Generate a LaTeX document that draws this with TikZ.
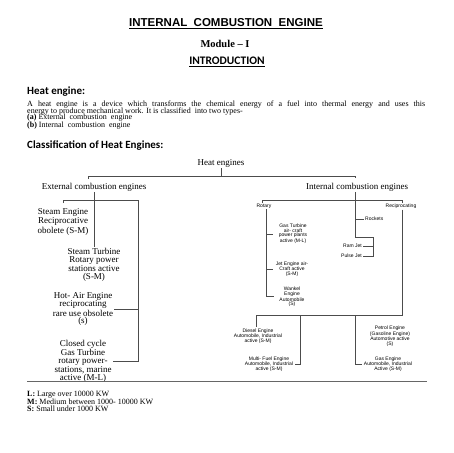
\documentclass[tikz,border=0pt]{standalone}
\usepackage{fontspec}
\setmainfont{Liberation Serif}
\newfontfamily\arialfont{Liberation Sans}
\newfontfamily\calfont{Carlito}
\usetikzlibrary{positioning}

\begin{document}
\begin{tikzpicture}[x=1pt,y=-1pt,
  txt/.style={inner sep=0pt},
  big/.style={align=center,inner sep=1pt,font=\fontsize{9}{7.8}\selectfont},
  tiny/.style={align=center,inner sep=1pt,font=\arialfont\fontsize{5}{4.5}\selectfont},
  ln/.style={black!70,line width=0.6pt}]

\useasboundingbox (0,0) rectangle (453,453);

% page head
\node[txt,font=\arialfont\bfseries\fontsize{11.5}{13}\selectfont] (title) at (226,24)
  {\underline{INTERNAL\ \ COMBUSTION\ \ ENGINE}};
\node[txt,font=\bfseries\fontsize{10.5}{12}\selectfont] (module) at (225,44) {Module -- I};
\node[txt,font=\calfont\bfseries\fontsize{11.5}{13}\selectfont] (intro) at (227,62) {\underline{INTRODUCTION}};

\node[txt,anchor=base west,font=\calfont\bfseries\fontsize{11}{12}\selectfont] (heat) at (27,94) {Heat engine:};
\node[txt,anchor=base west,font=\fontsize{8}{9}\selectfont] (par1) at (27,106)
  {\makebox[398pt][s]{A heat engine is a device which transforms the chemical energy of a fuel into thermal energy and uses this}};
\node[txt,anchor=base west,font=\fontsize{8}{9}\selectfont] (par2) at (27,113)
  {energy to produce mechanical work. It is classified \ into two types-};
\node[txt,anchor=base west,font=\fontsize{8}{9}\selectfont] (typa) at (27,119.5)
  {\textbf{(a)} External \ combustion \ engine};
\node[txt,anchor=base west,font=\fontsize{8}{9}\selectfont] (typb) at (27,127.5)
  {\textbf{(b)} Internal \ combustion \ engine};
\node[txt,anchor=base west,font=\calfont\bfseries\fontsize{11}{12}\selectfont] (clas) at (27,148) {Classification of Heat Engines:};

% tree top
\node[big] (HE) at (221,163) {Heat engines};
\coordinate (hb) at (221,176);
\coordinate (busL) at (88,176);
\coordinate (busR) at (355,176);
\coordinate (tkL) at (88,179);
\coordinate (tkR) at (355,178);
\draw[ln] (HE.south) -- (hb);
\draw[ln] (tkL) -- (busL) -- (busR) -- (tkR);

\node[big] (ECE) at (94,187) {External combustion engines};
\node[big] (ICE) at (357,187) {Internal combustion engines};

% external side
\node[big] (SE) at (63,222) {Steam Engine\\Reciprocative\\obolete (S-M)};
\node[big] (ST) at (94,265) {Steam Turbine\\Rotary power\\stations active\\(S-M)};
\node[big] (HA) at (83,309) {Hot- Air Engine\\reciprocating\\rare use obsolete\\(s)};
\node[big] (CC) at (83,361) {Closed cycle\\Gas Turbine\\rotary power-\\stations, marine\\active (M-L)};

\coordinate (lb1) at (63,203);
\coordinate (lb2) at (63,200);
\coordinate (lb3) at (138,200);
\draw[ln] (ECE.south) -- (ECE.south |- ST.north);
\draw[ln] (lb1) -- (lb2) -- (lb3) -- (lb3 |- CC.east) -- (CC.east);
\draw[ln] (HA.east) -- (HA.east -| lb3);

% internal side
\node[tiny] (ROT) at (264,206) {Rotary};
\node[tiny] (REC) at (401,206) {Reciprocating};
\coordinate (rb1) at (262,203);
\coordinate (rb2) at (262,200);
\coordinate (rb3) at (402,200);
\coordinate (rb4) at (402,203);
\draw[ln] (rb1) -- (rb2) -- (rb3) -- (rb4);

\node[tiny,anchor=west] (RK) at (364,219) {Rockets};
\node[tiny,anchor=east] (RJ) at (363,246) {Ram Jet};
\node[tiny,anchor=east] (PJ) at (363,256) {Pulse Jet};
\coordinate (ij) at (355,237);
\coordinate (jb) at (373,237);
\draw[ln] (ICE.south -| ij) -- (ij) -- (jb) -- (jb |- PJ.east) -- (PJ.east);
\draw[ln] (RJ.east) -- (RJ.east -| jb);
\draw[ln] (RK.west -| ij) -- (RK.west);

\node[tiny] (GT) at (293,234) {Gas Turbine\\air- craft\\power plants\\active (M-L)};
\node[tiny] (JE) at (292,269) {Jet Engine air-\\Craft active\\(S-M)};
\node[tiny] (WK) at (292,297) {Wankel\\Engine\\Automobile\\(S)};
\coordinate (wk) at (266,296);
\draw[ln] (ROT.south -| wk) -- (wk) -- ++(8,0);
\draw[ln] (GT.west -| wk) -- ++(7,0);
\draw[ln] (JE.west -| wk) -- ++(7,0);

\node[tiny] (DE) at (258,336) {Diesel Engine\\Automobile, Industrial\\active (S-M)};
\node[tiny] (MF) at (269,364) {Multi- Fuel Engine\\Automobile, Industrial\\active (S-M)};
\node[tiny] (PE) at (390,336) {Petrol Engine\\(Gasoline Engine)\\Automotive active\\(S)};
\node[tiny] (GE) at (388,364) {Gas Engine\\Automobile, Industrial\\Active (S-M)};
\coordinate (bb1) at (256,315);
\coordinate (bb2) at (402,315);
\coordinate (mf) at (300,364);
\coordinate (ge) at (355,364);
\draw[ln] (REC.south -| bb2) -- (bb2) -- (bb1) -- (bb1 |- DE.north);
\draw[ln] (mf |- bb1) -- (mf) -- ++(-5,0);
\draw[ln] (ge |- bb1) -- (ge) -- ++(7,0);

% foot
\draw[black!60,line width=1pt] (27,381) -- (427,381);
\node[txt,anchor=base west,font=\fontsize{8}{7}\selectfont] (fL) at (27,396.5) {\textbf{L:} Large over 10000 KW};
\node[txt,anchor=base west,font=\fontsize{8}{7}\selectfont] (fM) at (27,404) {\textbf{M:} Medium between 1000- 10000 KW};
\node[txt,anchor=base west,font=\fontsize{8}{7}\selectfont] (fS) at (27,411.5) {\textbf{S:} Small under 1000 KW};

\end{tikzpicture}
\end{document}
